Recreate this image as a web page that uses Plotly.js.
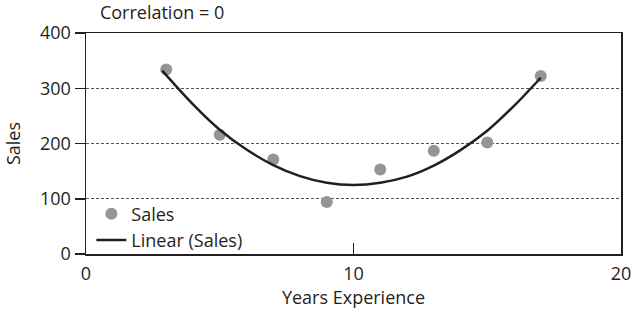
<!DOCTYPE html>
<html>
<head>
<meta charset="utf-8">
<script src="https://cdn.plot.ly/plotly-3.0.1.min.js"></script>
<style>html,body{margin:0;padding:0;background:#fff;}#chart{width:633px;height:313px;}</style>
</head>
<body>
<div id="chart"></div>
<script>
// Data
const yearsExperience = [3, 5, 7, 9, 11, 13, 15, 17];
const sales = [334, 216, 171, 94, 153, 187, 202, 322];
// Trend line (as drawn in the reference)
const trendX = [2.85, 4, 5, 6, 7, 8, 9, 10, 11, 12, 13, 14, 15, 16, 17];
const trendY = [332, 271, 225, 189, 161, 141, 129, 125, 129, 140, 160, 188, 223, 268, 319];
const xTicks = [0, 10, 20];
const yTicks = [0, 100, 200, 300, 400];

const FONT = 'Open Sans, Noto Sans, sans-serif';
const TXT = '#231f20';
const FS = 18;

const traces = [
  {
    x: yearsExperience, y: sales, type: 'scatter', mode: 'markers', name: 'Sales',
    marker: {color: '#939598', size: 12}
  },
  {
    x: trendX, y: trendY, type: 'scatter', mode: 'lines', name: 'Linear (Sales)',
    line: {color: '#231f20', width: 2.5, shape: 'spline'}
  }
];

const layout = {
  width: 633, height: 313,
  margin: {l: 86, r: 12, t: 33, b: 59},
  paper_bgcolor: '#fff', plot_bgcolor: '#fff',
  font: {family: FONT, size: FS, color: TXT},
  title: {
    text: 'Correlation = 0', font: {family: FONT, size: FS, color: TXT},
    xref: 'paper', x: 0.026, xanchor: 'left', yref: 'container', y: 0.96, yanchor: 'middle'
  },
  showlegend: true,
  legend: {
    x: 0.01, y: 0.265, xanchor: 'left', yanchor: 'top',
    bgcolor: 'rgba(0,0,0,0)', font: {family: FONT, size: FS, color: TXT},
    tracegroupgap: 0
  },
  xaxis: {
    range: [0, 20], tickvals: xTicks, ticktext: xTicks.map(String),
    ticks: 'inside', ticklen: 11, tickcolor: '#231f20', tickwidth: 1,
    ticklabelstandoff: 3,
    showline: true, linecolor: '#231f20', linewidth: 1.5, mirror: true,
    showgrid: false, zeroline: false,
    tickfont: {family: FONT, size: FS, color: TXT},
    title: {text: 'Years Experience', font: {family: FONT, size: FS, color: TXT}, standoff: 6}
  },
  yaxis: {
    range: [0, 400], tickvals: yTicks, ticktext: yTicks.map(String),
    ticks: 'outside', ticklen: 10, tickcolor: '#231f20', tickwidth: 1.5,
    showline: true, linecolor: '#231f20', linewidth: 1.5, mirror: true,
    showgrid: true, gridcolor: '#555', gridwidth: 1, griddash: '3px,2px',
    zeroline: false,
    tickfont: {family: FONT, size: FS, color: TXT},
    title: {text: 'Sales', font: {family: FONT, size: FS, color: TXT}, standoff: 14}
  }
};

Plotly.newPlot('chart', traces, layout, {displayModeBar: false, staticPlot: true});
</script>
</body>
</html>
